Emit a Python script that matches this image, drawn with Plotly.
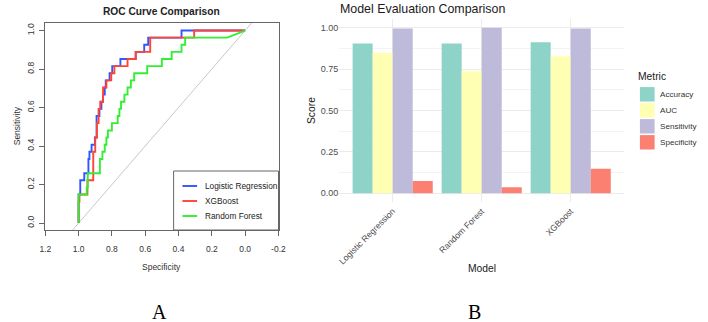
import plotly.graph_objects as go

# ---------------- data ----------------
# Panel A: ROC curves (specificity, sensitivity)
lr_spec = [1.0, 1.0, 0.99, 0.99, 0.966, 0.966, 0.941, 0.941, 0.935, 0.935, 0.922, 0.922, 0.902, 0.902,
           0.892, 0.892, 0.875, 0.875, 0.863, 0.863, 0.853, 0.853, 0.843, 0.843, 0.837, 0.837, 0.814, 0.814,
           0.798, 0.798, 0.749, 0.749, 0.657, 0.657, 0.606, 0.606, 0.582, 0.582, 0.382, 0.382, 0.0]
lr_sens = [0.0, 0.148, 0.148, 0.222, 0.222, 0.259, 0.259, 0.333, 0.333, 0.370, 0.370, 0.407, 0.407, 0.444,
           0.444, 0.556, 0.556, 0.593, 0.593, 0.630, 0.630, 0.667, 0.667, 0.704, 0.704, 0.741, 0.741, 0.778,
           0.778, 0.815, 0.815, 0.852, 0.852, 0.889, 0.889, 0.926, 0.926, 0.963, 0.963, 1.0, 1.0]

xgb_spec = [1.0, 1.0, 0.995, 0.995, 0.947, 0.947, 0.912, 0.912, 0.90, 0.90, 0.89, 0.89, 0.88, 0.88,
            0.87, 0.87, 0.853, 0.853, 0.833, 0.833, 0.804, 0.804, 0.785, 0.785, 0.706, 0.706, 0.657, 0.657,
            0.57, 0.57, 0.306, 0.306, 0.0]
xgb_sens = [0.0, 0.111, 0.111, 0.148, 0.148, 0.222, 0.222, 0.370, 0.370, 0.444, 0.444, 0.519, 0.519, 0.593,
            0.593, 0.630, 0.630, 0.704, 0.704, 0.741, 0.741, 0.778, 0.778, 0.815, 0.815, 0.852, 0.852, 0.889,
            0.889, 0.963, 0.963, 1.0, 1.0]

rf_spec = [1.0, 1.0, 0.951, 0.951, 0.945, 0.945, 0.872, 0.872, 0.857, 0.857, 0.843, 0.843, 0.833, 0.833,
           0.824, 0.824, 0.80, 0.80, 0.765, 0.765, 0.755, 0.755, 0.745, 0.745, 0.725, 0.725, 0.706, 0.706,
           0.686, 0.686, 0.666, 0.666, 0.588, 0.588, 0.50, 0.50, 0.441, 0.441, 0.382, 0.382, 0.36, 0.36,
           0.108, 0.0]
rf_sens = [0.0, 0.148, 0.148, 0.185, 0.185, 0.259, 0.259, 0.333, 0.333, 0.370, 0.370, 0.407, 0.407, 0.444,
           0.444, 0.481, 0.481, 0.519, 0.519, 0.556, 0.556, 0.593, 0.593, 0.630, 0.630, 0.667, 0.667, 0.704,
           0.704, 0.741, 0.741, 0.778, 0.778, 0.815, 0.815, 0.852, 0.852, 0.889, 0.889, 0.926, 0.926, 0.963,
           0.963, 1.0]

roc_names = ["Logistic Regression", "XGBoost", "Random Forest"]
roc_colors = ["#3355ff", "#ff4433", "#33ee33"]
roc_x_ticks = [1.2, 1.0, 0.8, 0.6, 0.4, 0.2, 0.0, -0.2]
roc_x_ticktext = ["1.2", "1.0", "0.8", "0.6", "0.4", "0.2", "0.0", "-0.2"]
roc_y_ticks = [0.0, 0.2, 0.4, 0.6, 0.8, 1.0]
roc_y_ticktext = ["0.0", "0.2", "0.4", "0.6", "0.8", "1.0"]

# Panel B: metrics per model
models = ["Logistic Regression", "Random Forest", "XGBoost"]
metrics = ["Accuracy", "AUC", "Sensitivity", "Specificity"]
accuracy = [0.905, 0.905, 0.912]
auc = [0.848, 0.737, 0.828]
sensitivity = [0.995, 1.0, 0.995]
specificity = [0.074, 0.037, 0.148]
metric_colors = ["#8DD3C7", "#FFFFB3", "#BEBADA", "#FB8072"]
score_ticks = [0.0, 0.25, 0.5, 0.75, 1.0]
score_ticktext = ["0.00", "0.25", "0.50", "0.75", "1.00"]
score_minor = [0.125, 0.375, 0.625, 0.875]

# ---------------- layout helpers ----------------
W, H = 708, 322
def px(x):
    return x / W
def py(y):
    return 1 - y / H

SANS = "Liberation Sans, Arial, sans-serif"
SERIF = "Liberation Serif, Times New Roman, serif"

fig = go.Figure()

# ---------------- Panel A ----------------
xr_a = [1.2005, -0.2005]
yr_a = [-0.036, 1.039]
fig.add_trace(go.Scatter(x=xr_a, y=[1 - v for v in xr_a], mode="lines",
                         line=dict(color="#c8c8c8", width=1), showlegend=False,
                         hoverinfo="skip", xaxis="x", yaxis="y"))
for sx, sy, nm, col in [(lr_spec, lr_sens, roc_names[0], roc_colors[0]),
                        (xgb_spec, xgb_sens, roc_names[1], roc_colors[1]),
                        (rf_spec, rf_sens, roc_names[2], roc_colors[2])]:
    fig.add_trace(go.Scatter(x=sx, y=sy, mode="lines", name=nm,
                             line=dict(color=col, width=1.9), showlegend=False,
                             xaxis="x", yaxis="y"))

# ---------------- Panel B ----------------
for nm, vals, col in zip(metrics, [accuracy, auc, sensitivity, specificity], metric_colors):
    fig.add_trace(go.Bar(x=models, y=vals, name=nm, marker=dict(color=col, line=dict(width=0)),
                         showlegend=False, xaxis="x2", yaxis="y2"))

axis_line = "#666666"
fig.update_layout(
    width=W, height=H, margin=dict(l=0, r=0, t=0, b=0),
    paper_bgcolor="white", plot_bgcolor="white",
    barmode="group", bargap=0.1, bargroupgap=0,
    font=dict(family=SANS),
    xaxis=dict(domain=[px(40), px(278)], range=xr_a, tickvals=roc_x_ticks, ticktext=roc_x_ticktext,
               showline=True, mirror=True, linecolor=axis_line, linewidth=1,
               ticks="outside", ticklen=5, tickcolor=axis_line, showgrid=False, zeroline=False,
               ticklabelstandoff=6,
               tickfont=dict(size=8.5, color="#333333"), anchor="y"),
    yaxis=dict(domain=[py(230), py(23)], range=yr_a, tickvals=roc_y_ticks, ticktext=roc_y_ticktext,
               showline=True, mirror=True, linecolor=axis_line, linewidth=1,
               ticks="outside", ticklen=5, tickcolor=axis_line, showgrid=False, zeroline=False,
               ticklabelstandoff=2,
               tickangle=-90, tickfont=dict(size=8.5, color="#333333"), anchor="x"),
    xaxis2=dict(domain=[px(340), px(630.6)], range=[-0.6, 2.6], type="category",
                showgrid=True, gridcolor="#EBEBEB", gridwidth=1, ticks="", showline=False,
                ticklabelstandoff=2,
                zeroline=False, tickangle=-45, tickfont=dict(size=8.6, color="#4D4D4D"), anchor="y2"),
    yaxis2=dict(domain=[py(201.6), py(19.4)], range=[-0.05, 1.05], tickvals=score_ticks,
                ticktext=score_ticktext, showgrid=True, gridcolor="#EBEBEB", gridwidth=1,
                minor=dict(tickvals=score_minor, showgrid=True, gridcolor="#F3F3F3", gridwidth=1),
                zeroline=False, showline=False, ticks="",
                tickfont=dict(size=9, color="#4D4D4D"), anchor="x2"),
)

ann = []
def text(x, y, s, size, color="#000000", xanchor="center", yanchor="middle", angle=0, family=SANS, bold=False):
    ann.append(dict(x=px(x), y=py(y), xref="paper", yref="paper", text=("<b>%s</b>" % s) if bold else s,
                    showarrow=False, xanchor=xanchor, yanchor=yanchor, textangle=angle, borderpad=0,
                    font=dict(size=size, color=color, family=family)))

# Panel A texts
text(158.7, 11, "ROC Curve Comparison", 10.2, color="#222222", bold=True)
text(159, 266.7, "Specificity", 8.5, color="#333333")
text(11.5, 126, "Sensitivity", 8.5, color="#333333", angle=-90)
# Panel A legend
shapes = [dict(type="rect", xref="paper", yref="paper", x0=px(171), x1=px(278), y0=py(230), y1=py(171),
               line=dict(color=axis_line, width=1), fillcolor="white", layer="above")]
for i, (nm, col) in enumerate(zip(roc_names, roc_colors)):
    yy = 186 + i * 15
    shapes.append(dict(type="line", xref="paper", yref="paper", x0=px(180), x1=px(195), y0=py(yy), y1=py(yy),
                       line=dict(color=col, width=1.9), layer="above"))
    text(201.5, yy, nm, 8.3, color="#222222", xanchor="left")

# Panel B texts
text(340, 8.5, "Model Evaluation Comparison", 12.4, color="#1a1a1a", xanchor="left")
text(485.5, 268.3, "Model", 10.3, color="#1a1a1a")
text(311.7, 110.5, "Score", 10.3, color="#1a1a1a", angle=-90)
# Panel B legend
text(644, 76.7, "Metric", 10.3, color="#1a1a1a", xanchor="left")
for i, (nm, col) in enumerate(zip(metrics, metric_colors)):
    yc = 94.3 + i * 16
    shapes.append(dict(type="rect", xref="paper", yref="paper", x0=px(646.7), x1=px(661.7),
                       y0=py(yc + 7.2), y1=py(yc - 7.2), line=dict(width=0), fillcolor=col))
    text(666.5, yc, nm, 8.1, color="#333333", xanchor="left")

# Panel labels
text(156.5, 312, "A", 20, family=SERIF)
text(477.5, 312, "B", 20, family=SERIF)

fig.update_layout(annotations=ann, shapes=shapes)
fig.write_html("out.html")
